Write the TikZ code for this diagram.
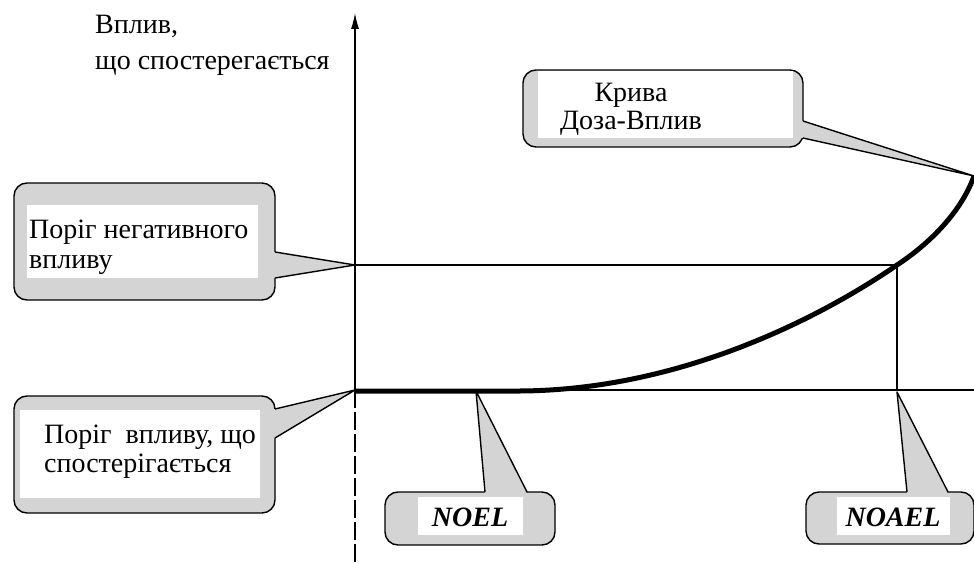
\documentclass[tikz,border=0pt]{standalone}
\usepackage{fontspec}
\setmainfont{Liberation Serif}
\usetikzlibrary{arrows.meta,calc}
\definecolor{boxgray}{RGB}{212,212,212}
\begin{document}
\begin{tikzpicture}[x=1pt,y=-1pt,
  bubble/.style={draw=black,line width=1.4pt,fill=boxgray,rounded corners=13pt,inner sep=0pt},
  inner/.style={fill=white},
  pointer/.style={fill=boxgray},
  pointerline/.style={draw=black,line width=1.4pt,line join=round},
  thin/.style={line width=1.2pt},
  txt/.style={font=\fontsize{28}{29}\selectfont,inner sep=0pt,align=left},
  label/.style={font=\fontsize{28}{30}\selectfont\bfseries\itshape,inner sep=0pt},
  curve/.style={line width=5pt,line cap=butt}]
\useasboundingbox (0,0) rectangle (974,564);

% axis
\coordinate (origin) at (355,390);
\coordinate (ybottom) at (355,564);
\coordinate (ytop) at (355,13);
\coordinate (negy) at (355,265);
\coordinate (noaelx) at (897,390);
\coordinate (negcross) at (897,265);
\coordinate (xright) at (974,390);
\draw[thin,-{Latex[length=16pt,width=8pt]}] (origin) -- (ytop);
\draw[thin,dash pattern=on 18pt off 4pt] (origin) -- (ybottom);
\draw[thin] (negy) -- (negcross) -- (noaelx);
\draw[thin] (origin) -- (xright);

% dose-response curve
\coordinate (noelpt) at (476,391);
\coordinate (curveend) at (974,176);
\draw[curve] (355,391) -- (noelpt) -- (520,391)
  .. controls (680,390) and (820,318) .. (negcross)
  .. controls (932,242) and (962,210) .. (curveend);

% y-axis label
\node[txt,anchor=west,font=\fontsize{28}{36}\selectfont] (ylabel) at (95,45) {Вплив,\\що спостерегається};

% callout: Крива Доза-Вплив
\node[bubble,minimum width=280pt,minimum height=77pt] (curvebox) at (663,108.5) {};
\fill[inner] (538,71) rectangle (793,138);
\fill[pointer] (797,121) -- (804,121) -- (curveend) -- (804,138) -- (797,138) -- cycle;
\draw[pointerline] (803,121) -- (curveend) -- (803,138);
\node[txt,align=center,font=\fontsize{28}{28}\selectfont] (curvetext) at (631,109) {Крива\\Доза-Вплив};

% callout: Поріг негативного впливу
\node[bubble,minimum width=261pt,minimum height=117pt] (negbox) at (144.5,241.5) {};
\fill[inner] (27,205) rectangle (258,278);
\fill[pointer] (269,252) -- (276,252) -- (negy) -- (276,278) -- (269,278) -- cycle;
\draw[pointerline] (275,252) -- (negy) -- (275,278);
\node[txt,anchor=west,font=\fontsize{28}{30}\selectfont] (negtext) at (29,247) {Поріг негативного\\впливу};

% callout: Поріг впливу, що спостерігається
\node[bubble,minimum width=261pt,minimum height=117pt] (obsbox) at (144.5,454.5) {};
\fill[inner] (20,410) rectangle (260,498);
\fill[pointer] (269,409) -- (276,409) -- (origin) -- (276,438) -- (269,438) -- cycle;
\draw[pointerline] (275,409) -- (origin) -- (275,438);
\node[txt,anchor=west] (obstext) at (44,452) {Поріг\ \ впливу, що\\спостерігається};

% callout: NOEL
\node[bubble,minimum width=170pt,minimum height=53pt] (noelbox) at (470,518.5) {};
\fill[inner] (418,497) rectangle (523,535);
\fill[pointer] (485,494) -- (noelpt) -- (527,494) -- cycle;
\draw[pointerline] (485,492) -- (noelpt) -- (527,492);
\node[label] (noeltext) at (470,517) {NOEL};

% callout: NOAEL
\node[bubble,minimum width=168pt,minimum height=52pt] (noaelbox) at (890,518) {};
\fill[inner] (837,497) rectangle (950,535);
\coordinate (noaeltip) at (897,392);
\fill[pointer] (907,494) -- (noaeltip) -- (948,494) -- cycle;
\draw[pointerline] (907,492) -- (noaeltip) -- (948,492);
\node[label] (noaeltext) at (893,517) {NOAEL};
\end{tikzpicture}
\end{document}
